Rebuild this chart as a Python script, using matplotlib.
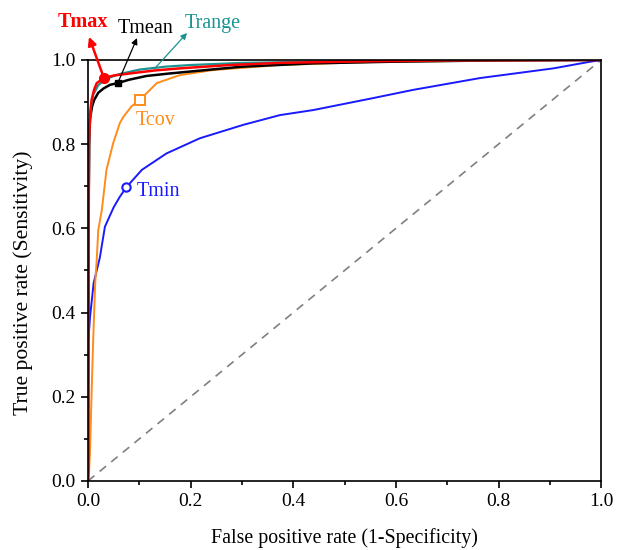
import matplotlib
matplotlib.use("Agg")
import matplotlib.pyplot as plt
from matplotlib.ticker import MultipleLocator

plt.rcParams["font.family"] = ["Liberation Serif", "DejaVu Serif"]

# ROC curves (false positive rate, true positive rate)
tmax_fpr = [0, 0.001, 0.002, 0.004, 0.007, 0.012, 0.017, 0.031, 0.05, 0.082, 0.13,
            0.179, 0.277, 0.374, 0.5, 0.7, 1.0]
tmax_tpr = [0, 0.5, 0.8, 0.87, 0.905, 0.93, 0.945, 0.957, 0.963, 0.968, 0.975,
            0.980, 0.988, 0.993, 0.996, 0.999, 1.0]

trange_fpr = [0, 0.001, 0.003, 0.006, 0.010, 0.02, 0.035, 0.06, 0.1, 0.15, 0.2,
              0.3, 0.45, 0.65, 1.0]
trange_tpr = [0, 0.6, 0.84, 0.89, 0.917, 0.94, 0.955, 0.966, 0.977, 0.984, 0.988,
              0.993, 0.996, 0.999, 1.0]

tmean_fpr = [0, 0.001, 0.002, 0.004, 0.008, 0.012, 0.02, 0.03, 0.043, 0.058, 0.08,
             0.114, 0.16, 0.212, 0.3, 0.439, 0.6, 0.8, 1.0]
tmean_tpr = [0, 0.6, 0.80, 0.86, 0.89, 0.905, 0.922, 0.932, 0.941, 0.945, 0.953,
             0.962, 0.968, 0.974, 0.984, 0.992, 0.996, 0.999, 1.0]

tcov_fpr = [0, 0.002, 0.004, 0.007, 0.010, 0.014, 0.017, 0.020, 0.027, 0.033, 0.036,
            0.049, 0.062, 0.069, 0.085, 0.101, 0.134, 0.179, 0.244, 0.374, 0.55,
            0.75, 1.0]
tcov_tpr = [0, 0.02, 0.074, 0.208, 0.33, 0.47, 0.525, 0.596, 0.644, 0.707, 0.739,
            0.802, 0.85, 0.865, 0.89, 0.905, 0.945, 0.964, 0.976, 0.988, 0.995,
            0.998, 1.0]

tmin_fpr = [0, 0.0005, 0.004, 0.011, 0.023, 0.033, 0.050, 0.062, 0.075, 0.105,
            0.153, 0.218, 0.303, 0.374, 0.439, 0.55, 0.634, 0.764, 0.907, 0.975, 1.0]
tmin_tpr = [0, 0.33, 0.39, 0.47, 0.53, 0.604, 0.65, 0.675, 0.698, 0.739,
            0.778, 0.814, 0.846, 0.869, 0.881, 0.908, 0.929, 0.957, 0.980, 0.995, 1.0]

# cut-off points marked on each curve
cut_tmax = (0.031, 0.957)
cut_tmean = (0.058, 0.945)
cut_tcov = (0.101, 0.905)
cut_tmin = (0.074, 0.698)

RED, BLACK, TEAL, ORANGE, BLUE = "#ff0000", "#000000", "#1a9391", "#ff8c1a", "#1a1aff"

fig = plt.figure(figsize=(6.21, 5.5), dpi=100)
ax = fig.add_axes([0.1417, 0.1255, 0.8263, 0.7655])

ax.plot([0, 1], [0, 1], color="#808080", lw=1.2, ls=(0, (5, 4)))
ax.plot(tmin_fpr, tmin_tpr, color=BLUE, lw=1.4)
ax.plot(tcov_fpr, tcov_tpr, color=ORANGE, lw=1.4)
ax.plot(tmean_fpr, tmean_tpr, color=BLACK, lw=1.8)
ax.plot(trange_fpr, trange_tpr, color=TEAL, lw=1.6)
ax.plot(tmax_fpr, tmax_tpr, color=RED, lw=1.8)

ax.plot(*cut_tmin, "o", ms=6, mfc="white", mec=BLUE, mew=1.5, zorder=5)
ax.plot(*cut_tcov, "s", ms=6.5, mfc="white", mec=ORANGE, mew=1.4, zorder=5)
ax.plot(*cut_tmean, "s", ms=5, color=BLACK, zorder=5)
ax.plot(*cut_tmax, "o", ms=7, color=RED, zorder=6)

fs = 14.5
ax.text(0.092, 0.857, "Tcov", color=ORANGE, fontsize=fs, va="center", ha="left")
ax.text(0.095, 0.688, "Tmin", color=BLUE, fontsize=fs, va="center", ha="left")

arrows = [
    ((0.002, 1.055), cut_tmax, RED, 1.8, 12),
    ((0.0955, 1.052), cut_tmean, BLACK, 0.9, 9),
    ((0.193, 1.064), (0.131, 0.981), TEAL, 0.9, 9),
]
for tip, start, col, lw, ms in arrows:
    ax.annotate("", xy=tip, xytext=start, annotation_clip=False,
                arrowprops=dict(arrowstyle="-|>", color=col, lw=lw,
                                mutation_scale=ms, shrinkA=0, shrinkB=0))

ax.text(-0.01, 1.090, "Tmax", color=RED, fontsize=fs, fontweight="bold",
        ha="center", va="center", clip_on=False)
ax.text(0.113, 1.074, "Tmean", color=BLACK, fontsize=fs, ha="center", va="center",
        clip_on=False)
ax.text(0.244, 1.086, "Trange", color=TEAL, fontsize=fs, ha="center", va="center",
        clip_on=False)

ax.set_xlim(0, 1)
ax.set_ylim(0, 1)
ax.xaxis.set_major_locator(MultipleLocator(0.2))
ax.yaxis.set_major_locator(MultipleLocator(0.2))
ax.xaxis.set_minor_locator(MultipleLocator(0.1))
ax.yaxis.set_minor_locator(MultipleLocator(0.1))
ax.xaxis.set_major_formatter(lambda v, p: f"{v:.1f}")
ax.yaxis.set_major_formatter(lambda v, p: f"{v:.1f}")
ax.tick_params(which="major", direction="out", length=5, width=1.2, labelsize=14, pad=4)
ax.tick_params(which="minor", direction="out", length=3, width=1.2)
for s in ax.spines.values():
    s.set_linewidth(1.2)

ax.set_xlabel("False positive rate (1-Specificity)", fontsize=14.3, labelpad=13)
ax.set_ylabel("True positive rate (Sensitivity)", fontsize=15.6)
ax.yaxis.set_label_coords(-0.107, 0.470)

fig.savefig("out.png", dpi=100)
